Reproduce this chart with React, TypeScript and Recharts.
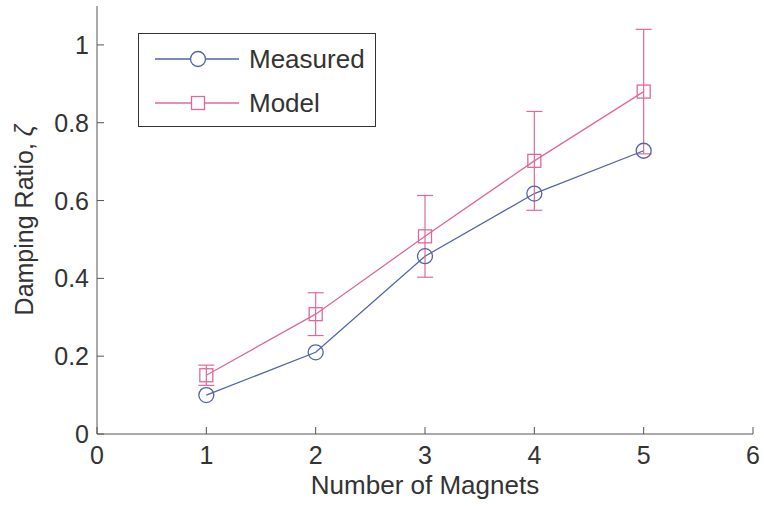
import React from 'react';
import { ComposedChart, Line, XAxis, YAxis, ErrorBar, Legend } from 'recharts';

const magnets = [1, 2, 3, 4, 5];
const measured = [0.1, 0.21, 0.457, 0.618, 0.728];
const model = [0.151, 0.308, 0.508, 0.702, 0.88];
const modelErr = [0.026, 0.055, 0.105, 0.127, 0.16];
const xTicks = [0, 1, 2, 3, 4, 5, 6];
const yTicks = [0, 0.2, 0.4, 0.6, 0.8, 1];
const seriesNames = ['Measured', 'Model'];
const xTitle = 'Number of Magnets';
const yTitle = 'Damping Ratio, ';
const ySymbol = 'ζ';

const data = magnets.map((m, i) => ({
  n: m,
  measured: measured[i],
  model: model[i],
  modelErr: modelErr[i],
}));

const BLUE = '#5165a8';
const PINK = '#e0689c';
const AXIS = '#555';
const TEXT = '#333';
const FONT = '"Liberation Sans", Arial, Helvetica, sans-serif';
const FS = 25;
const TICK_LEN = 7;
const X_MARGIN = 12;
const Y_MARGIN = 8;

const CircleDot = (p: any) => {
  if (p.cx == null || p.cy == null) return <g key={p.key} />;
  return <circle key={p.key} cx={p.cx} cy={p.cy} r={7.5} fill="none" stroke={BLUE} strokeWidth={1.3} />;
};

const SquareDot = (p: any) => {
  if (p.cx == null || p.cy == null) return <g key={p.key} />;
  return <rect key={p.key} x={p.cx - 6.5} y={p.cy - 6.5} width={13} height={13} fill="none" stroke={PINK} strokeWidth={1.3} />;
};

const BottomTick = (p: any) => {
  const axisY = p.y - X_MARGIN;
  return (
    <g>
      <line x1={p.x} x2={p.x} y1={axisY} y2={axisY - TICK_LEN} stroke={AXIS} strokeWidth={1} />
      <text x={p.x} y={p.y} dy="0.71em" textAnchor="middle" fontSize={FS} fill={TEXT} fontFamily={FONT}>
        {p.payload.value}
      </text>
    </g>
  );
};

const LeftTick = (p: any) => {
  const axisX = p.x + Y_MARGIN;
  return (
    <g>
      <line x1={axisX} x2={axisX + TICK_LEN} y1={p.y} y2={p.y} stroke={AXIS} strokeWidth={1} />
      <text x={p.x} y={p.y} dy="0.36em" textAnchor="end" fontSize={FS} fill={TEXT} fontFamily={FONT}>
        {p.payload.value}
      </text>
    </g>
  );
};

const TopTick = (p: any) => (
  <line x1={p.x} x2={p.x} y1={p.y} y2={p.y + TICK_LEN} stroke={AXIS} strokeWidth={1} />
);

const RightTick = (p: any) => (
  <line x1={p.x} x2={p.x - TICK_LEN} y1={p.y} y2={p.y} stroke={AXIS} strokeWidth={1} />
);

const LegendBox = () => (
  <div
    style={{
      width: 238,
      height: 94,
      border: '1.5px solid #333',
      background: '#fff',
      boxSizing: 'border-box',
      fontFamily: FONT,
      fontSize: 26,
      color: TEXT,
      position: 'relative',
    }}
  >
    {seriesNames.map((name, i) => (
      <div
        key={name}
        style={{ position: 'absolute', left: 16, top: i === 0 ? 10 : 54, height: 30, display: 'flex', alignItems: 'center' }}
      >
        <svg width={84} height={30} style={{ display: 'block' }}>
          <line x1={0} x2={84} y1={15} y2={15} stroke={i === 0 ? BLUE : PINK} strokeWidth={1.3} />
          {i === 0 ? (
            <circle cx={43} cy={15} r={7.5} fill="#fff" stroke={BLUE} strokeWidth={1.3} />
          ) : (
            <rect x={36.5} y={8.5} width={13} height={13} fill="#fff" stroke={PINK} strokeWidth={1.3} />
          )}
        </svg>
        <span style={{ marginLeft: 10, lineHeight: '30px' }}>{name}</span>
      </div>
    ))}
  </div>
);

const XTitle = (props: any) => {
  const vb = props.viewBox || {};
  return (
    <text x={vb.x + vb.width / 2} y={vb.y + 60} textAnchor="middle" fontSize={26} fill={TEXT} fontFamily={FONT}>
      {xTitle}
    </text>
  );
};

const YTitle = (props: any) => {
  const vb = props.viewBox || {};
  const cx = 33;
  const cy = vb.y + vb.height / 2;
  return (
    <text x={cx} y={cy} transform={`rotate(-90, ${cx}, ${cy})`} textAnchor="middle" fontSize={25} fill={TEXT} fontFamily={FONT}>
      {yTitle}
      <tspan fontStyle="italic">{ySymbol}</tspan>
    </text>
  );
};

export default function App() {
  return (
    <div style={{ position: 'absolute', left: 0, top: 0, width: 764, height: 507, background: '#fff' }}>
      <ComposedChart width={764} height={507} data={data} margin={{ top: 6, right: 11, bottom: 0, left: 0 }}>
        <XAxis
          dataKey="n"
          type="number"
          domain={[0, 6]}
          ticks={xTicks}
          height={73}
          tickSize={0}
          tickMargin={X_MARGIN}
          tickLine={false}
          stroke={AXIS}
          tick={BottomTick}
          interval={0}
          allowDataOverflow
          label={<XTitle />}
        />
        <XAxis
          xAxisId="top"
          orientation="top"
          type="number"
          domain={[0, 6]}
          ticks={xTicks}
          height={0}
          tickSize={0}
          tickMargin={0}
          tickLine={false}
          tick={TopTick}
          interval={0}
          stroke={AXIS}
          allowDataOverflow
        />
        <YAxis
          type="number"
          domain={[0, 1.1]}
          ticks={yTicks}
          width={97}
          tickSize={0}
          tickMargin={Y_MARGIN}
          tickLine={false}
          stroke={AXIS}
          tick={LeftTick}
          interval={0}
          allowDataOverflow
          label={<YTitle />}
        />
        <YAxis
          yAxisId="right"
          orientation="right"
          type="number"
          domain={[0, 1.1]}
          ticks={yTicks}
          width={0}
          tickSize={0}
          tickMargin={0}
          tickLine={false}
          tick={RightTick}
          interval={0}
          stroke={AXIS}
          allowDataOverflow
        />
        <Line
          dataKey="measured"
          name={seriesNames[0]}
          type="linear"
          stroke={BLUE}
          strokeWidth={1.3}
          dot={CircleDot}
          activeDot={false}
          isAnimationActive={false}
        />
        <Line
          dataKey="model"
          name={seriesNames[1]}
          type="linear"
          stroke={PINK}
          strokeWidth={1.3}
          dot={SquareDot}
          activeDot={false}
          isAnimationActive={false}
        >
          <ErrorBar dataKey="modelErr" direction="y" width={8} stroke={PINK} strokeWidth={1.2} isAnimationActive={false} />
        </Line>
        <Legend
          layout="vertical"
          align="center"
          verticalAlign="middle"
          content={<LegendBox />}
          wrapperStyle={{ left: 138, top: 33, width: 238, height: 94 }}
        />
      </ComposedChart>
    </div>
  );
}
